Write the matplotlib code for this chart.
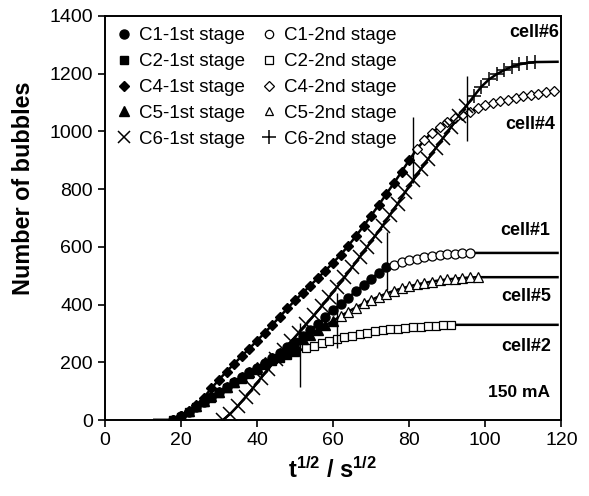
import matplotlib
matplotlib.use("Agg")
from matplotlib import pyplot as plt
from matplotlib.lines import Line2D

plt.rcParams["font.family"] = ["Liberation Sans", "DejaVu Sans"]
plt.rcParams["mathtext.fontset"] = "custom"
plt.rcParams["mathtext.rm"] = "Liberation Sans:bold"
plt.rcParams["mathtext.it"] = "Liberation Sans:bold"
plt.rcParams["mathtext.bf"] = "Liberation Sans:bold"

# cell #1 (circles)
c1_s1_x = [18, 20, 22, 24, 26, 28, 30, 32, 34, 36, 38, 40, 42, 44, 46, 48, 50, 52, 54, 56, 58, 60, 62, 64, 66, 68, 70, 72, 74]
c1_s1_y = [0, 13, 29, 46, 63, 80, 97, 114, 131, 148, 165, 182, 199, 216, 234, 252, 270, 290, 311, 333, 356, 380, 402, 424, 446, 468, 490, 510, 530]
c1_s2_x = [76, 78, 80, 82, 84, 86, 88, 90, 92, 94, 96]
c1_s2_y = [538, 547, 553, 559, 564, 568, 572, 575, 577, 578, 579]

# cell #2 (squares)
c2_s1_x = [18, 20, 22, 24, 26, 28, 30, 32, 34, 36, 38, 40, 42, 44, 46, 48, 50]
c2_s1_y = [0, 12, 28, 45, 62, 78, 95, 112, 128, 144, 160, 175, 190, 203, 215, 226, 236]
c2_s2_x = [53, 55, 57, 59, 61, 63, 65, 67, 69, 71, 73, 75, 77, 79, 81, 83, 85, 87, 89, 91]
c2_s2_y = [250, 258, 266, 273, 280, 287, 293, 298, 303, 307, 311, 314, 317, 320, 322, 324, 326, 327, 328, 330]

# cell #4 (diamonds)
c4_s1_x = [18, 20, 22, 24, 26, 28, 30, 32, 34, 36, 38, 40, 42, 44, 46, 48, 50, 52, 54, 56, 58, 60, 62, 64, 66, 68, 70, 72, 74, 76, 78, 80]
c4_s1_y = [0, 14, 32, 52, 78, 110, 140, 168, 195, 222, 248, 275, 302, 330, 358, 387, 415, 440, 466, 492, 518, 545, 573, 604, 637, 672, 708, 745, 783, 821, 860, 900]
c4_s2_x = [82, 84, 86, 88, 90, 92, 94, 96, 98, 100, 102, 104, 106, 108, 110, 112, 114, 116, 118]
c4_s2_y = [938, 970, 996, 1016, 1032, 1046, 1058, 1068, 1080, 1090, 1098, 1104, 1110, 1116, 1121, 1127, 1131, 1135, 1139]

# cell #5 (triangles)
c5_s1_x = [18, 20, 22, 24, 26, 28, 30, 32, 34, 36, 38, 40, 42, 44, 46, 48, 50, 52, 54, 56, 58, 60]
c5_s1_y = [0, 14, 30, 48, 65, 82, 99, 116, 133, 150, 167, 184, 200, 216, 232, 248, 264, 280, 296, 312, 328, 344]
c5_s2_x = [62, 64, 66, 68, 70, 72, 74, 76, 78, 80, 82, 84, 86, 88, 90, 92, 94, 96, 98]
c5_s2_y = [360, 376, 390, 404, 416, 428, 438, 448, 456, 463, 470, 475, 480, 484, 487, 490, 492, 494, 495]

# cell #6 (x / +)
c6_s1_x = [31, 33, 35, 37, 39, 41, 43, 45, 47, 49, 51, 53, 55, 57, 59, 61, 63, 65, 67, 69, 71, 73, 75, 77, 79, 81, 83, 85, 87, 89, 91, 93, 95]
c6_s1_y = [0, 22, 50, 80, 112, 145, 178, 210, 242, 273, 303, 333, 363, 395, 427, 460, 494, 529, 565, 601, 637, 673, 712, 750, 790, 830, 868, 905, 942, 978, 1014, 1052, 1088]
c6_s2_x = [97, 99, 101, 103, 105, 107, 109, 111, 113]
c6_s2_y = [1122, 1155, 1180, 1198, 1212, 1224, 1232, 1237, 1240]

# fitted curves: start on the x axis, end at a plateau
fit_start_x = {"c1": 13, "c2": 13, "c4": 13, "c5": 13, "c6": 30}
fit_end = {"c1": (119, 579), "c2": (119, 330), "c4": (118, 1139), "c5": (119, 495), "c6": (119, 1241)}

# stage boundaries (vertical bars)
bound_x = [51.2, 61.0, 74.3, 81.0, 95.2]
bound_lo = [115, 250, 452, 820, 967]
bound_hi = [335, 440, 650, 1050, 1193]

cell_names = ["cell#6", "cell#4", "cell#1", "cell#5", "cell#2"]
cell_label_y = [1341, 1025, 657, 428, 255]

cells = {
    "c1": (c1_s1_x, c1_s1_y, c1_s2_x, c1_s2_y, "o", "C1"),
    "c2": (c2_s1_x, c2_s1_y, c2_s2_x, c2_s2_y, "s", "C2"),
    "c4": (c4_s1_x, c4_s1_y, c4_s2_x, c4_s2_y, "D", "C4"),
    "c5": (c5_s1_x, c5_s1_y, c5_s2_x, c5_s2_y, "^", "C5"),
    "c6": (c6_s1_x, c6_s1_y, c6_s2_x, c6_s2_y, None, "C6"),
}
marker_size = {"o": 6.5, "s": 6, "D": 5.5, "^": 6.5}

fig = plt.figure(figsize=(5.89, 4.96), dpi=100)
ax = fig.add_axes([0.178, 0.153, 0.775, 0.815])

first_handles = []
second_handles = []
for key, (x1, y1, x2, y2, mk, name) in cells.items():
    ex, ey = fit_end[key]
    lx = [fit_start_x[key]] + x1 + x2 + [ex]
    ly = [0] + y1 + y2 + [ey]
    ax.plot(lx, ly, color="black", lw=1.8, zorder=2)
    if mk is None:
        ax.plot(x1, y1, ls="none", marker="x", ms=9.5, mew=1.1, color="black", zorder=3)
        ax.plot(x2, y2, ls="none", marker="+", ms=10, mew=1.1, color="black", zorder=3)
        h1 = Line2D([], [], ls="none", marker="x", ms=8, mew=1.1, color="black")
        h2 = Line2D([], [], ls="none", marker="+", ms=10, mew=1.1, color="black")
    else:
        ms = marker_size[mk]
        ax.plot(x1, y1, ls="none", marker=mk, ms=ms, mfc="black", mec="black", zorder=3)
        ax.plot(x2, y2, ls="none", marker=mk, ms=ms, mfc="white", mec="black", mew=0.9, zorder=3)
        h1 = Line2D([], [], ls="none", marker=mk, ms=ms, mfc="black", mec="black")
        h2 = Line2D([], [], ls="none", marker=mk, ms=ms - 0.5, mfc="white", mec="black", mew=0.9)
    first_handles.append((h1, f"{name}-1st stage"))
    second_handles.append((h2, f"{name}-2nd stage"))

ax.vlines(bound_x, bound_lo, bound_hi, color="black", lw=1.0, zorder=4)

label_right = [119.4, 118.4, 117.0, 117.4, 117.2]
for name, xx, yy in zip(cell_names, label_right, cell_label_y):
    ax.text(xx, yy, name, ha="right", va="center", fontsize=13, fontweight="bold")
ax.text(117, 97, "150 mA", ha="right", va="center", fontsize=12.5, fontweight="bold")

handles = [h for h, _ in first_handles] + [h for h, _ in second_handles]
labels = [l for _, l in first_handles] + [l for _, l in second_handles]
ax.legend(handles, labels, ncol=2, loc="upper left", frameon=False, fontsize=13.5,
          handlelength=0.8, handletextpad=0.4, columnspacing=0.9, labelspacing=0.47,
          borderaxespad=0.3, borderpad=0.3)

ax.set_xlim(0, 120)
ax.set_ylim(0, 1400)
ax.set_xticks([0, 20, 40, 60, 80, 100, 120])
ax.set_yticks(range(0, 1401, 200))
ax.tick_params(direction="out", length=5, width=1.2, labelsize=14, top=False, right=False)
for sp in ax.spines.values():
    sp.set_linewidth(1.4)

ax.set_ylabel("Number of bubbles", fontsize=16.8, fontweight="bold")
ax.yaxis.set_label_coords(-0.153, 0.574)
ax.set_xlabel(r"$\mathrm{t^{1/2}}$ / $\mathrm{s^{1/2}}$", fontsize=17, fontweight="bold", labelpad=6)

fig.savefig("out.png", dpi=100)
